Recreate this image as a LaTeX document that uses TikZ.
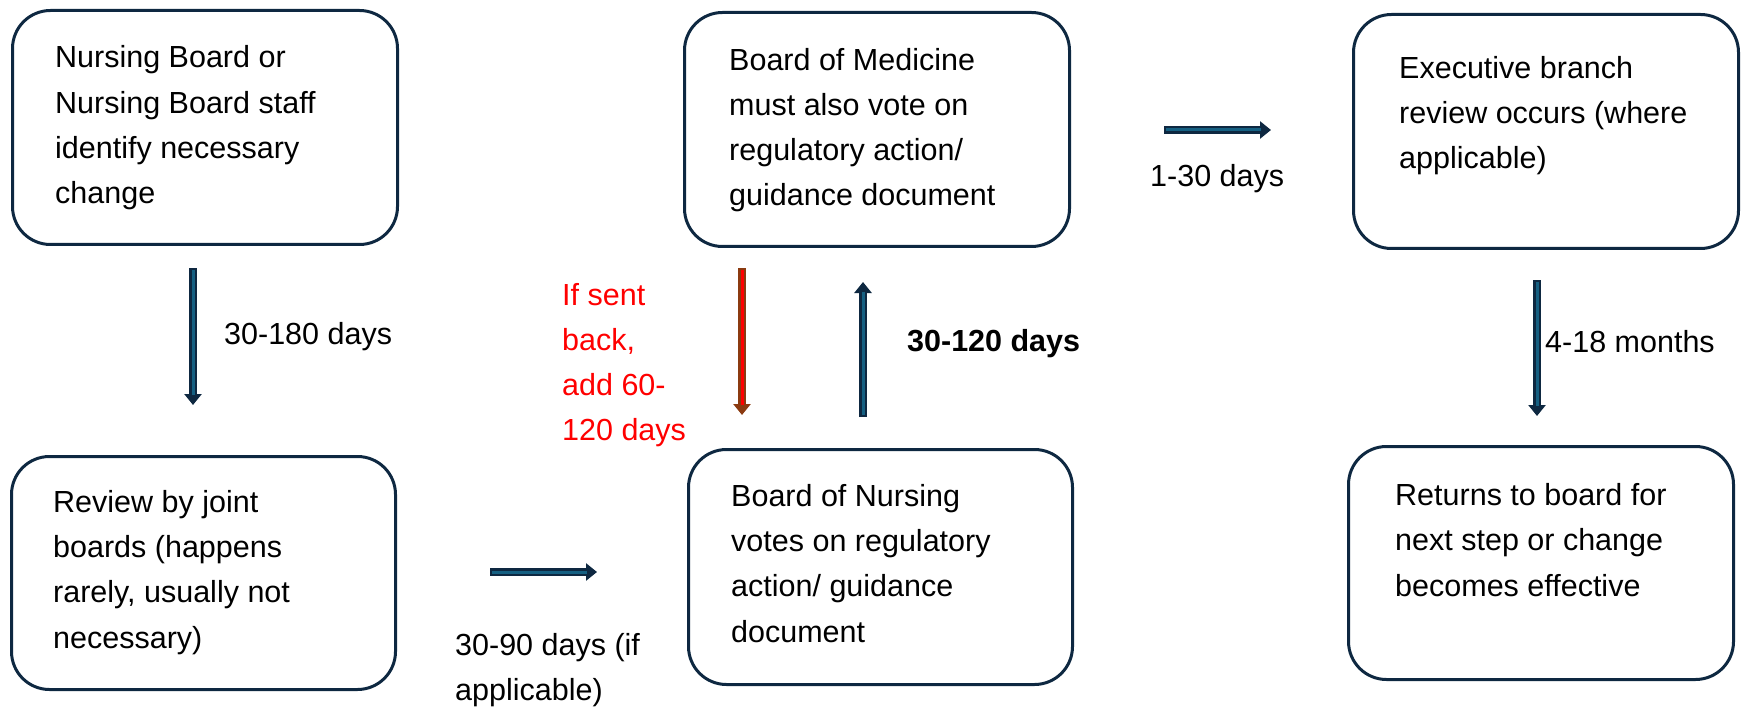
\documentclass[tikz,border=0pt]{standalone}
\usepackage{fontspec}
\setmainfont{Liberation Sans}
\usetikzlibrary{arrows.meta}
\definecolor{edge}{HTML}{0E2841}
\definecolor{shaft}{HTML}{156082}
\definecolor{rededge}{HTML}{8B3A10}
\definecolor{alert}{HTML}{FF0000}
\tikzset{
  stepbox/.style={draw=edge, line width=3pt, rounded corners=38pt, fill=none,
    anchor=north west, inner sep=0pt},
  % multi-line texts are placed by the baseline of their last line
  boxtext/.style={anchor=base west, align=left, inner sep=0pt,
    font=\fontsize{30.5}{45.2}\selectfont},
  note/.style={anchor=base west, align=left, inner sep=0pt,
    font=\fontsize{30.5}{45}\selectfont},
  outerarrow/.style={line width=8pt, draw=#1,
    -{Triangle[width=17pt,length=11pt]}},
  innerline/.style={line width=3pt, draw=#1, shorten >=10pt, shorten <=2pt},
}
\begin{document}
\begin{tikzpicture}[x=1pt,y=-1pt]
\useasboundingbox (0,0) rectangle (1760,711);

% process boxes
\node[stepbox, minimum width=385pt, minimum height=234pt] (b1) at (11,9) {};
\node[stepbox, minimum width=385pt, minimum height=234pt] (b2) at (683,11) {};
\node[stepbox, minimum width=385pt, minimum height=234pt] (b3) at (1352,13) {};
\node[stepbox, minimum width=384pt, minimum height=233pt] (b4) at (10,455) {};
\node[stepbox, minimum width=384pt, minimum height=235pt] (b5) at (687,448) {};
\node[stepbox, minimum width=385pt, minimum height=233pt] (b6) at (1347,445) {};

% box texts
\node[boxtext] (t1) at (55,203.5) {Nursing Board or\\Nursing Board staff\\identify necessary\\change};
\node[boxtext] (t2) at (729,206) {Board of Medicine\\must also vote on\\regulatory action/\\guidance document};
\node[boxtext] (t3) at (1399,169) {Executive branch\\review occurs (where\\applicable)};
\node[boxtext] (t4) at (53,648) {Review by joint\\boards (happens\\rarely, usually not\\necessary)};
\node[boxtext] (t5) at (731,642) {Board of Nursing\\votes on regulatory\\action/ guidance\\document};
\node[boxtext] (t6) at (1395,596) {Returns to board for\\next step or change\\becomes effective};

% arrow end points
\coordinate (a1s) at (193,268); \coordinate (a1e) at (193,405);
\coordinate (a2s) at (742,268); \coordinate (a2e) at (742,415);
\coordinate (a3s) at (863,417); \coordinate (a3e) at (863,282);
\coordinate (a4s) at (1164,130); \coordinate (a4e) at (1271,130);
\coordinate (a5s) at (1537,280); \coordinate (a5e) at (1537,416);
\coordinate (a6s) at (490,572); \coordinate (a6e) at (597,572);

% block arrows
\foreach \s/\e in {a1s/a1e, a3s/a3e, a4s/a4e, a5s/a5e, a6s/a6e}{
  \draw[outerarrow=edge] (\s) -- (\e);
  \draw[innerline=shaft] (\s) -- (\e);
}
\draw[outerarrow=rededge] (a2s) -- (a2e);
\draw[innerline=alert] (a2s) -- (a2e);

% timing labels
\node[note] (l1) at (224,344) {30-180 days};
\node[note, text=alert] (l2) at (562,440) {If sent\\back,\\add 60-\\120 days};
\node[note, font=\fontsize{30.5}{45}\selectfont\bfseries] (l3) at (907,351) {30-120 days};
\node[note] (l4) at (1150,187) {1-30 days};
\node[note] (l5) at (1545,352) {4-18 months};
\node[note] (l6) at (455,700) {30-90 days (if\\applicable)};
\end{tikzpicture}
\end{document}
